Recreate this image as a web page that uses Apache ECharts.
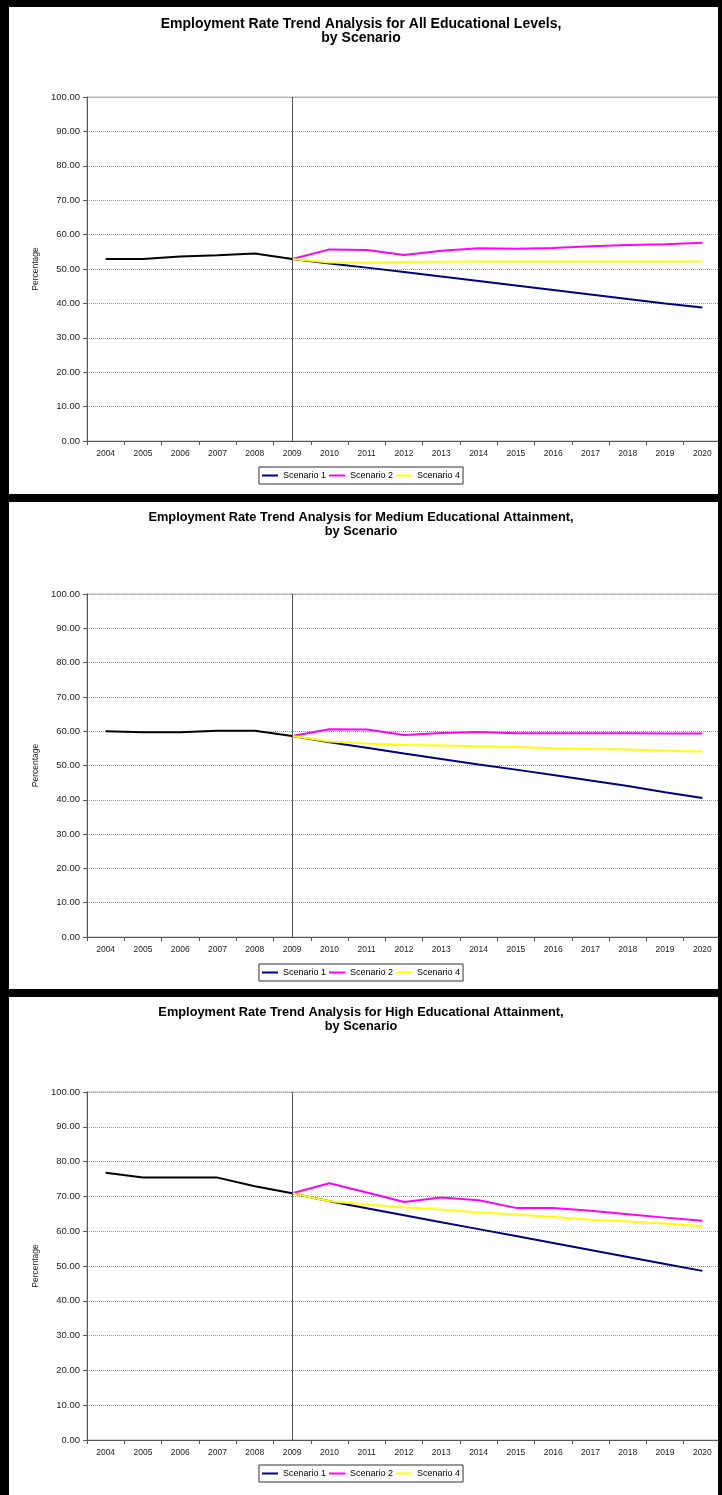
<!DOCTYPE html>
<html>
<head>
<meta charset="utf-8">
<title>Employment Rate Trend Analysis</title>
<script src="https://cdn.jsdelivr.net/npm/echarts@6/dist/echarts.min.js"></script>
<style>
  html, body { margin:0; padding:0; background:#fff; }
  #page { position:relative; width:722px; height:1495px; overflow:hidden; }
  .chart { position:absolute; left:0; width:722px; }
  .bar { position:absolute; background:#000; z-index:10; }
</style>
</head>
<body>
<div id="page">
  <div class="chart" id="all-echar" style="top:0;height:494px"></div>
  <div class="chart" id="medium-echar" style="top:494px;height:495px"></div>
  <div class="chart" id="high-echar" style="top:989px;height:506px"></div>
  <!-- black frame round the three charts -->
  <div class="bar" style="left:0;top:0;width:9px;height:1495px"></div>
  <div class="bar" style="left:0;top:0;width:722px;height:7px"></div>
  <div class="bar" style="left:0;top:494px;width:722px;height:8px"></div>
  <div class="bar" style="left:0;top:989px;width:722px;height:8px"></div>
  <div class="bar" style="left:718px;top:0;width:4px;height:1495px"></div>
</div>
<script>
// 年份
var years = ['2004','2005','2006','2007','2008','2009','2010','2011','2012','2013','2014','2015','2016','2017','2018','2019','2020'];
var legendNames = ['Scenario 1', 'Scenario 2', 'Scenario 4'];
var yMin = 0, yMax = 100, yStep = 10;

// All educational levels
var allActual = [52.9, 52.9, 53.6, 54.0, 54.5, 52.9, null, null, null, null, null, null, null, null, null, null, null];
var allScen1  = [null, null, null, null, null, 52.9, 51.6, 50.4, 49.1, 47.8, 46.5, 45.2, 43.9, 42.6, 41.3, 40.0, 38.8];
var allScen2  = [null, null, null, null, null, 52.9, 55.7, 55.5, 54.1, 55.3, 56.0, 55.9, 56.1, 56.6, 57.0, 57.2, 57.6];
var allScen4  = [null, null, null, null, null, 52.9, 51.9, 51.8, 52.0, 52.1, 52.2, 52.2, 52.2, 52.2, 52.2, 52.2, 52.2];

// Medium educational attainment
var medActual = [60.0, 59.7, 59.7, 60.1, 60.1, 58.6, null, null, null, null, null, null, null, null, null, null, null];
var medScen1  = [null, null, null, null, null, 58.6, 56.8, 55.2, 53.5, 51.9, 50.3, 48.8, 47.2, 45.6, 44.0, 42.2, 40.5];
var medScen2  = [null, null, null, null, null, 58.6, 60.6, 60.5, 58.9, 59.5, 59.8, 59.4, 59.4, 59.4, 59.4, 59.3, 59.3];
var medScen4  = [null, null, null, null, null, 58.6, 57.0, 56.4, 56.0, 55.8, 55.6, 55.4, 55.0, 54.8, 54.7, 54.3, 54.1];

// High educational attainment
var highActual = [76.8, 75.4, 75.4, 75.4, 72.9, 70.9, null, null, null, null, null, null, null, null, null, null, null];
var highScen1  = [null, null, null, null, null, 70.9, 68.6, 66.6, 64.6, 62.6, 60.6, 58.6, 56.6, 54.6, 52.6, 50.6, 48.6];
var highScen2  = [null, null, null, null, null, 70.9, 73.8, 71.1, 68.4, 69.7, 68.9, 66.7, 66.7, 65.9, 64.9, 63.9, 63.0];
var highScen4  = [null, null, null, null, null, 70.9, 68.6, 67.7, 66.9, 66.2, 65.4, 64.8, 64.1, 63.3, 62.8, 62.2, 61.4];

var FONT = '"Liberation Sans", Arial, sans-serif';
var mycharts = [];

function lineSeries(name, color, data) {
  return {
    name: name,
    type: 'line',
    data: data,
    symbol: 'none',
    connectNulls: false,
    lineStyle: { color: color, width: 2 },
    itemStyle: { color: color }
  };
}

function build_option(title, actual, s1, s2, s4, pos) {
  var actualSeries = lineSeries('Actual', '#000000', actual);
  // 2009 分隔线
  actualSeries.markLine = {
    silent: true,
    symbol: ['none', 'none'],
    label: { show: false },
    lineStyle: { color: '#555', width: 1, type: 'solid' },
    data: [{ xAxis: '2009' }]
  };
  return {
    animation: false,
    backgroundColor: '#fff',
    title: {
      text: title,
      left: 'center',
      top: pos.titleTop,
      textStyle: { fontFamily: FONT, fontSize: pos.titleSize, fontWeight: 'bold', color: '#000', lineHeight: 14 }
    },
    legend: {
      data: legendNames,
      left: 'center',
      top: pos.legendTop,
      borderColor: '#333',
      borderWidth: 1,
      padding: [4, 3],
      icon: 'rect',
      itemWidth: 16,
      itemHeight: 2,
      itemGap: 3,
      textStyle: { fontFamily: FONT, fontSize: 9, color: '#000' }
    },
    grid: {
      left: 87,
      right: 1,
      top: pos.gridTop,
      height: pos.gridHeight,
      show: true,
      borderColor: '#b0b0b0',
      borderWidth: 1,
      outerBoundsMode: 'none'
    },
    xAxis: {
      type: 'category',
      boundaryGap: true,
      data: years,
      axisLine: { lineStyle: { color: '#555' } },
      axisTick: { show: true, length: 4, lineStyle: { color: '#555' } },
      axisLabel: { fontFamily: FONT, fontSize: 8.5, color: '#222', margin: 8, interval: 0 },
      splitLine: { show: false }
    },
    yAxis: {
      type: 'value',
      min: yMin,
      max: yMax,
      interval: yStep,
      name: 'Percentage',
      nameLocation: 'middle',
      nameRotate: 90,
      nameGap: 46,
      nameTextStyle: { fontFamily: FONT, fontSize: 8.5, color: '#222' },
      axisLine: { show: true, lineStyle: { color: '#555' } },
      axisTick: { show: true, length: 4, lineStyle: { color: '#555' } },
      axisLabel: {
        fontFamily: FONT, fontSize: 9.5, color: '#222', margin: 7,
        formatter: function (v) { return v.toFixed(2); }
      },
      splitLine: { show: true, lineStyle: { color: '#999', type: 'dotted', width: 1 } }
    },
    series: [
      actualSeries,
      lineSeries('Scenario 1', '#000080', s1),
      lineSeries('Scenario 2', '#ff00ff', s2),
      lineSeries('Scenario 4', '#ffff00', s4)
    ]
  };
}

var all_echar = echarts.init(document.getElementById('all-echar'));
all_echar.setOption(build_option(
  'Employment Rate Trend Analysis for All Educational Levels,\nby Scenario',
  allActual, allScen1, allScen2, allScen4,
  { titleTop: 12, titleSize: 14, gridTop: 97, gridHeight: 344, legendTop: 467 }));
mycharts.push(all_echar);

var medium_echar = echarts.init(document.getElementById('medium-echar'));
medium_echar.setOption(build_option(
  'Employment Rate Trend Analysis for Medium Educational Attainment,\nby Scenario',
  medActual, medScen1, medScen2, medScen4,
  { titleTop: 11, titleSize: 12.8, gridTop: 100, gridHeight: 343, legendTop: 470 }));
mycharts.push(medium_echar);

var high_echar = echarts.init(document.getElementById('high-echar'));
high_echar.setOption(build_option(
  'Employment Rate Trend Analysis for High Educational Attainment,\nby Scenario',
  highActual, highScen1, highScen2, highScen4,
  { titleTop: 11, titleSize: 12.8, gridTop: 103, gridHeight: 348, legendTop: 476 }));
mycharts.push(high_echar);

window.onresize = function () {
  for (var i = 0; i < mycharts.length; i++) {
    mycharts[i].resize();
  }
};
</script>
</body>
</html>
